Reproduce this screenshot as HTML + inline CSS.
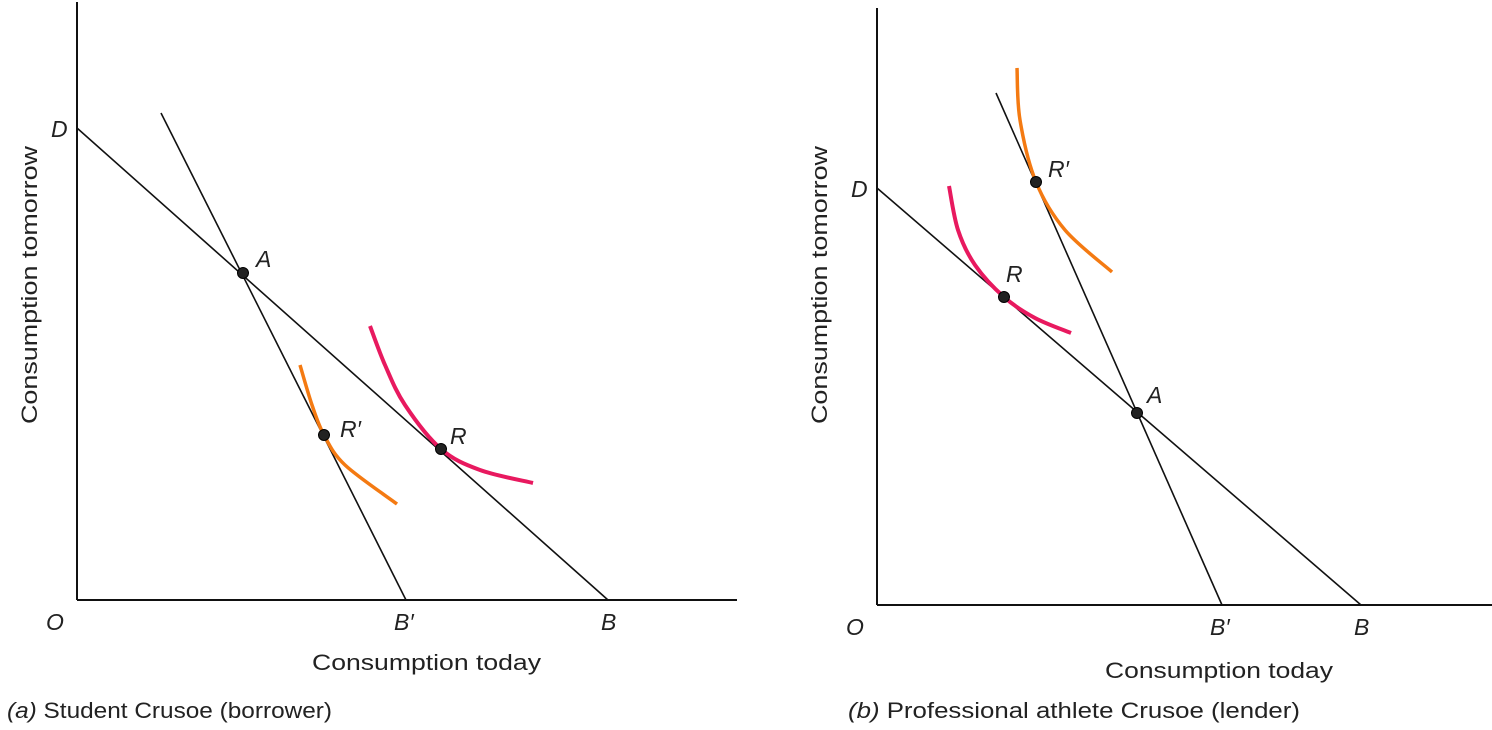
<!DOCTYPE html>
<html><head><meta charset="utf-8"><style>
html,body{margin:0;padding:0;background:#fff;}
svg{display:block;font-family:"Liberation Sans",sans-serif;}
.lbl{font-size:23px;font-style:italic;fill:#222;}
.ttl{font-size:22px;fill:#222;}
</style></head><body>
<svg id="chart" width="1492" height="730" viewBox="0 0 1492 730" xmlns="http://www.w3.org/2000/svg">
<rect width="1492" height="730" fill="#fff"/>
<g id="pa"></g>
<g id="pb"></g>
<text class="ttl" x="312" y="670" textLength="229" lengthAdjust="spacingAndGlyphs">Consumption today</text>
<text class="ttl" x="37" y="424" textLength="278" lengthAdjust="spacingAndGlyphs" transform="rotate(-90 37 424)">Consumption tomorrow</text>
<text class="ttl" x="7" y="718" textLength="325" lengthAdjust="spacingAndGlyphs"><tspan font-style="italic">(a)</tspan>  Student Crusoe (borrower)</text>
<text class="ttl" x="1105" y="678" textLength="228" lengthAdjust="spacingAndGlyphs">Consumption today</text>
<text class="ttl" x="827" y="424" textLength="278" lengthAdjust="spacingAndGlyphs" transform="rotate(-90 827 424)">Consumption tomorrow</text>
<text class="ttl" x="848" y="718" textLength="452" lengthAdjust="spacingAndGlyphs"><tspan font-style="italic">(b)</tspan>  Professional athlete Crusoe (lender)</text>
</svg>
<script>
// Panel A data (units relative to origin)
const aD = 472, aB = 531, aBp = 329;
const aSteepTop = [84, 487];
const aPointA = [166, 327];
const aPointR = [364, 151];
const aPointRp = [247, 165];
const aPink = [[293,274],[308,235],[328,195],[364,151],[403,130],[456,117]];
const aOrange = [[223,235],[235,195],[247,165],[268,135],[320,96]];
// Panel B data
const bD = 417, bB = 484, bBp = 345;
const bSteepTop = [119, 512];
const bPointA = [260, 192];
const bPointR = [127, 308];
const bPointRp = [159, 423];
const bPink = [[72,419],[81,375],[98,340],[127,308],[158,287],[194,272]];
const bOrange = [[140,537],[143,485],[159,423],[188,375],[235,333]];

const NS = "http://www.w3.org/2000/svg";
function mk(g, tag, attrs){ const e = document.createElementNS(NS, tag); for (const k in attrs) e.setAttribute(k, attrs[k]); g.appendChild(e); return e; }
function spline(pts, sx, sy){
  const p = pts.map(q => [sx(q[0]), sy(q[1])]);
  let d = "M" + p[0][0] + "," + p[0][1];
  for (let i = 0; i < p.length - 1; i++){
    const p0 = p[i-1] || p[i], p1 = p[i], p2 = p[i+1], p3 = p[i+2] || p2;
    const c1 = [p1[0] + (p2[0]-p0[0])/6, p1[1] + (p2[1]-p0[1])/6];
    const c2 = [p2[0] - (p3[0]-p1[0])/6, p2[1] - (p3[1]-p1[1])/6];
    d += " C" + c1 + " " + c2 + " " + p2;
  }
  return d;
}
function panel(id, ox, oy, top, right, D, B, Bp, steepTop, PA, PR, PRp, pink, orange, cfg){
  const g = document.getElementById(id);
  const sx = v => ox + v, sy = v => oy - v;
  let e;
  e = mk(g, "line", {x1: ox, y1: top, x2: ox, y2: oy, stroke: "#111", "stroke-width": 2});
  
  
  e = mk(g, "line", {x1: ox, y1: oy, x2: right, y2: oy, stroke: "#111", "stroke-width": 2});
  
  
  e = mk(g, "line", {x1: sx(0), y1: sy(D), x2: sx(B), y2: sy(0), stroke: "#111", "stroke-width": 1.6});
  
  
  e = mk(g, "line", {x1: sx(steepTop[0]), y1: sy(steepTop[1]), x2: sx(Bp), y2: sy(0), stroke: "#111", "stroke-width": 1.6});
  
  
  e = mk(g, "path", {d: spline(pink, sx, sy), fill: "none", stroke: "#e8195f", "stroke-width": 4, "stroke-linecap": "butt"});
  
  
  e = mk(g, "path", {d: spline(orange, sx, sy), fill: "none", stroke: "#f47a12", "stroke-width": 3.5, "stroke-linecap": "butt"});
  
  
  const pts = [[PA, 'point-a'], [PR, 'point-r'], [PRp, 'point-rprime']];
  pts.forEach(q => {
    const c = mk(g, "circle", {cx: sx(q[0][0]), cy: sy(q[0][1]), r: 5.5, fill: "#222", stroke: "#000", "stroke-width": 1});
    
    
  });
  const labels = [
    ["D", ox - 26, sy(D) + 9, 'label-d'],
    ["O", ox - 31, oy + 30, 'label-o'],
    ["B\u2032", sx(Bp) - 12, oy + 30, 'label-bprime'],
    ["B", sx(B) - 7, oy + 30, 'label-b'],
    ["A", sx(PA[0]) + cfg.A[0], sy(PA[1]) + cfg.A[1], 'label-a'],
    ["R", sx(PR[0]) + cfg.R[0], sy(PR[1]) + cfg.R[1], 'label-r'],
    ["R\u2032", sx(PRp[0]) + cfg.Rp[0], sy(PRp[1]) + cfg.Rp[1], 'label-rprime']
  ];
  labels.forEach(l => {
    const t = mk(g, "text", {x: l[1], y: l[2], "class": "lbl"});
    t.textContent = l[0];
    
    
  });
}
panel("pa", 77, 600, 2, 737, aD, aB, aBp, aSteepTop, aPointA, aPointR, aPointRp, aPink, aOrange,
  {A: [13, -6], R: [9, -5], Rp: [16, 2]});
panel("pb", 877, 605, 8, 1492, bD, bB, bBp, bSteepTop, bPointA, bPointR, bPointRp, bPink, bOrange,
  {A: [10, -10], R: [2, -15], Rp: [12, -5]});
</script>
</body></html>
